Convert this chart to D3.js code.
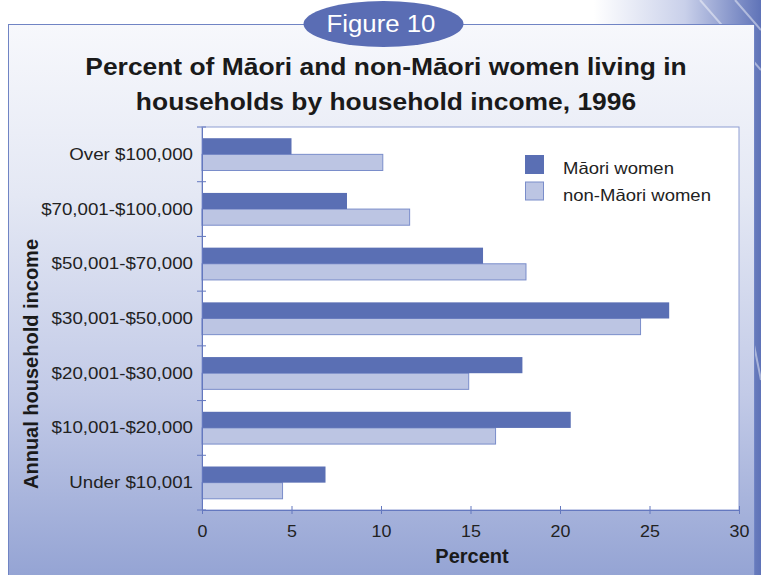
<!DOCTYPE html>
<html>
<head>
<meta charset="utf-8">
<script src="https://cdn.jsdelivr.net/npm/d3@7"></script>
<style>
  html, body { margin: 0; padding: 0; background: #fff; }
  svg { display: block; font-family: "Liberation Sans", Arial, sans-serif; }
</style>
</head>
<body>
<div id="chart"></div>
<script>
// Data
const categories = ["Over $100,000", "$70,001-$100,000", "$50,001-$70,000", "$30,001-$50,000",
                    "$20,001-$30,000", "$10,001-$20,000", "Under $10,001"];
const maori = [5.0, 8.1, 15.7, 26.1, 17.9, 20.6, 6.9];
const nonMaori = [10.1, 11.6, 18.1, 24.5, 14.9, 16.4, 4.5];
const seriesNames = ["Māori women", "non-Māori women"];
const xTicks = [0, 5, 10, 15, 20, 25, 30];
const titleLines = ["Percent of Māori and non-Māori women living in", "households by household income, 1996"];

const W = 761, H = 575;
const plot = { left: 202, right: 739, top: 127, bottom: 510 };
const colors = { maori: "#5a6fb4", non: "#bcc5e3", nonStroke: "#7a8dca", axis: "#6478bf" };

// stretch text horizontally (the original type is set a bit wide)
function stretch(sel, k) {
  sel.each(function () {
    const w = this.getComputedTextLength();
    d3.select(this).attr("textLength", w * k).attr("lengthAdjust", "spacingAndGlyphs");
  });
}

const svg = d3.select("#chart").append("svg")
  .attr("width", W)
  .attr("height", H);

const defs = svg.append("defs");
const bgGrad = defs.append("linearGradient").attr("id", "bg").attr("x1", 0).attr("x2", 1).attr("y1", 0).attr("y2", 0);
bgGrad.append("stop").attr("offset", 0).attr("stop-color", "#ffffff");
bgGrad.append("stop").attr("offset", 0.78).attr("stop-color", "#ffffff");
bgGrad.append("stop").attr("offset", 0.9).attr("stop-color", "#c9d0ea");
bgGrad.append("stop").attr("offset", 1).attr("stop-color", "#5f73b8");

const panelGrad = defs.append("linearGradient").attr("id", "panel").attr("x1", 0).attr("x2", 0).attr("y1", 0).attr("y2", 1);
panelGrad.append("stop").attr("offset", 0).attr("stop-color", "#f7f8fc");
panelGrad.append("stop").attr("offset", 0.3).attr("stop-color", "#e4e8f4");
panelGrad.append("stop").attr("offset", 0.65).attr("stop-color", "#c2cae7");
panelGrad.append("stop").attr("offset", 1).attr("stop-color", "#90a0d2");

// page background with a few streaks at the top right
svg.append("rect").attr("width", W).attr("height", H).attr("fill", "url(#bg)");
svg.append("g").attr("stroke", "#ffffff").attr("stroke-opacity", 0.45).attr("fill", "none")
  .selectAll("line")
  .data([[700, 0, 761, 70], [735, 0, 761, 30], [745, 300, 761, 380]])
  .join("line")
  .attr("x1", d => d[0]).attr("y1", d => d[1]).attr("x2", d => d[2]).attr("y2", d => d[3])
  .attr("stroke-width", 2);

// main panel
svg.append("rect")
  .attr("x", 8.5).attr("y", 24.5)
  .attr("width", 746).attr("height", 570)
  .attr("fill", "url(#panel)")
  .attr("stroke", "#7084c4");

// "Figure 10" badge
svg.append("ellipse")
  .attr("cx", 383.5).attr("cy", 24)
  .attr("rx", 80).attr("ry", 23)
  .attr("fill", "#5a6db4");
svg.append("text")
  .attr("x", 381).attr("y", 32)
  .attr("text-anchor", "middle")
  .attr("font-size", 23)
  .attr("fill", "#ffffff")
  .text("Figure 10")
  .call(stretch, 1.12);

// title
svg.append("g").selectAll("text")
  .data(titleLines)
  .join("text")
  .attr("x", 386)
  .attr("y", (d, i) => 75 + i * 34.5)
  .attr("text-anchor", "middle")
  .attr("font-size", 24)
  .attr("font-weight", "bold")
  .attr("fill", "#1a1a1a")
  .text(d => d)
  .call(stretch, 1.1);

// scales
const x = d3.scaleLinear().domain([0, 30]).range([plot.left, plot.right]);
const y = d3.scaleBand().domain(categories).range([plot.top, plot.bottom])
  .paddingInner(0.41).paddingOuter(0.205);
const ySub = d3.scaleBand().domain(["maori", "non"]).range([0, y.bandwidth()]);

// plot area
svg.append("rect")
  .attr("x", plot.left).attr("y", plot.top)
  .attr("width", plot.right - plot.left).attr("height", plot.bottom - plot.top)
  .attr("fill", "#ffffff")
  .attr("stroke", "#8e9dd2");

// bars
const rows = categories.map((c, i) => ({ cat: c, maori: maori[i], non: nonMaori[i] }));

svg.append("g").selectAll("rect")
  .data(rows)
  .join("rect")
  .attr("x", x(0))
  .attr("y", d => y(d.cat) + ySub("non"))
  .attr("width", d => x(d.non) - x(0))
  .attr("height", ySub.bandwidth())
  .attr("fill", colors.non)
  .attr("stroke", colors.nonStroke)
  .attr("stroke-width", 1);

svg.append("g").selectAll("rect")
  .data(rows)
  .join("rect")
  .attr("x", x(0))
  .attr("y", d => y(d.cat) + ySub("maori"))
  .attr("width", d => x(d.maori) - x(0))
  .attr("height", ySub.bandwidth())
  .attr("fill", colors.maori);

// x axis
const xAxis = svg.append("g")
  .attr("transform", `translate(0,${plot.bottom})`)
  .call(d3.axisBottom(x).tickValues(xTicks).tickSize(4).tickSizeOuter(0).tickPadding(11));
xAxis.selectAll(".tick line").attr("y1", -4).attr("y2", 4);
xAxis.selectAll("path, line").attr("stroke", colors.axis);
xAxis.selectAll("text")
  .attr("font-family", "Liberation Sans, Arial, sans-serif")
  .attr("font-size", 17)
  .attr("fill", "#222")
  .call(stretch, 1.05);

// y axis: labels at band centres, ticks at band boundaries
const yAxis = svg.append("g")
  .attr("transform", `translate(${plot.left},0)`)
  .call(d3.axisLeft(y).tickSize(0).tickPadding(9));
yAxis.select(".domain").attr("stroke", colors.axis);
yAxis.selectAll("text")
  .attr("font-family", "Liberation Sans, Arial, sans-serif")
  .attr("font-size", 17)
  .attr("fill", "#222")
  .call(stretch, 1.1);

const bounds = categories.map(c => y(c) - y.step() * y.paddingInner() / 2).concat([plot.bottom]);
yAxis.append("g").selectAll("line")
  .data(bounds)
  .join("line")
  .attr("x1", -5).attr("x2", 4)
  .attr("y1", d => d).attr("y2", d => d)
  .attr("stroke", colors.axis);

// axis titles
svg.append("text")
  .attr("x", 472).attr("y", 563)
  .attr("text-anchor", "middle")
  .attr("font-size", 20)
  .attr("font-weight", "bold")
  .attr("fill", "#1a1a1a")
  .text("Percent");

svg.append("text")
  .attr("transform", "translate(38,364) rotate(-90)")
  .attr("text-anchor", "middle")
  .attr("font-size", 20)
  .attr("font-weight", "bold")
  .attr("fill", "#1a1a1a")
  .text("Annual household income");

// legend
const legend = svg.append("g").attr("transform", "translate(525,155)");
const legendItems = legend.selectAll("g")
  .data(seriesNames)
  .join("g")
  .attr("transform", (d, i) => `translate(0,${i * 26.5})`);
legendItems.append("rect")
  .attr("x", 0.5).attr("y", 0.5)
  .attr("width", 18).attr("height", 18)
  .attr("fill", (d, i) => i === 0 ? colors.maori : colors.non)
  .attr("stroke", (d, i) => i === 0 ? colors.maori : colors.nonStroke);
legendItems.append("text")
  .attr("x", 38).attr("y", 19)
  .attr("font-size", 16.5)
  .attr("fill", "#222")
  .text(d => d)
  .call(stretch, 1.12);
</script>
</body>
</html>
